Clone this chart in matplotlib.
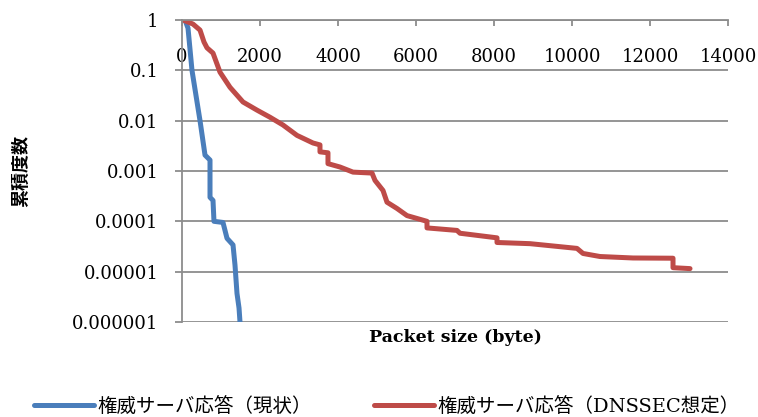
import matplotlib
matplotlib.use("Agg")
from matplotlib import pyplot as plt
from matplotlib.ticker import FixedLocator, FixedFormatter

# Data (packet size in bytes, cumulative frequency)
current_size = [77, 154, 256, 462, 590, 718, 718, 795, 820, 1051, 1154, 1308, 1359, 1410, 1462, 1487]
current_freq = [1.0, 0.69, 0.1, 0.01, 0.00207, 0.00165, 0.0003, 0.00026, 0.0001, 0.000095,
                0.000046, 0.000034, 0.0000135, 0.0000037, 0.0000019, 0.000001]

dnssec_size = [25, 282, 462, 564, 641, 795, 974, 1231, 1564, 1923, 2256, 2590, 2949, 3359,
               3538, 3538, 3743, 3743, 4051, 4385, 4872, 4949, 5154, 5256, 5513, 5769, 6282,
               6282, 7051, 7128, 8077, 8077, 8923, 10128, 10282, 10718, 11564, 12590, 12590, 13026]
dnssec_freq = [1.0, 0.83, 0.63, 0.365, 0.28, 0.22, 0.092, 0.046, 0.0235, 0.0162, 0.0117, 0.0082,
               0.0051, 0.0036, 0.0033, 0.0024, 0.0023, 0.0014, 0.0012, 0.00095, 0.00091, 0.00065,
               0.00041, 0.00024, 0.00018, 0.00013, 0.0001, 0.000074, 0.000066, 0.000058, 0.000047,
               0.000038, 0.000036, 0.000029, 0.000023, 0.00002, 0.0000187, 0.0000185, 0.000012,
               0.0000115]

x_ticks = [0, 2000, 4000, 6000, 8000, 10000, 12000, 14000]
y_ticks = [1, 0.1, 0.01, 0.001, 0.0001, 0.00001, 0.000001]
y_labels = ["1", "0.1", "0.01", "0.001", "0.0001", "0.00001", "0.000001"]

series_names = ["権威サーバ応答（現状）", "権威サーバ応答（DNSSEC想定）"]

plt.rcParams["font.family"] = ["DejaVu Serif", "Noto Sans CJK JP"]

fig = plt.figure(figsize=(7.58, 4.17), dpi=100)
ax = fig.add_axes([182 / 758, 1 - 322 / 417, 546 / 758, 302 / 417])

ax.plot(current_size, current_freq, color="#4A7EBB", linewidth=3.6,
        solid_capstyle="round", solid_joinstyle="round", label=series_names[0])
ax.plot(dnssec_size, dnssec_freq, color="#BE4B48", linewidth=3.6,
        solid_capstyle="round", solid_joinstyle="round", label=series_names[1])

ax.set_yscale("log")
ax.set_ylim(0.000001, 1)
ax.set_xlim(0, 14000)
ax.yaxis.set_major_locator(FixedLocator(y_ticks))
ax.yaxis.set_major_formatter(FixedFormatter(y_labels))
ax.yaxis.set_minor_locator(FixedLocator([]))
ax.set_xticks(x_ticks)
ax.set_xticklabels([str(v) for v in x_ticks])

ax.grid(axis="y", color="#8C8C8C", linewidth=1.3)
ax.set_axisbelow(True)
for side in ["right", "bottom"]:
    ax.spines[side].set_visible(False)
for side in ["left", "top"]:
    ax.spines[side].set_color("#8C8C8C")
    ax.spines[side].set_linewidth(1.3)

ax.tick_params(axis="y", direction="out", length=5, width=1.3, color="#8C8C8C",
               labelsize=13, pad=12)
ax.tick_params(axis="x", top=True, bottom=False, labeltop=True, labelbottom=False,
               direction="in", length=4, width=1.3, color="#8C8C8C",
               labelsize=13, pad=-33)

ax.set_xlabel("Packet size (byte)", fontsize=12.5, fontweight="bold", labelpad=5)
ax.set_ylabel("累積度数", fontsize=13, fontweight="bold", labelpad=30,
              family=["Noto Sans CJK JP"])

fig.legend(loc="lower center", bbox_to_anchor=(0.51, -0.04), ncol=2, frameon=False,
           prop={"family": ["DejaVu Serif", "Noto Sans CJK JP"], "size": 14},
           handlelength=3.1, handletextpad=0.15, columnspacing=3.2)

plt.savefig("out.png", dpi=100)
